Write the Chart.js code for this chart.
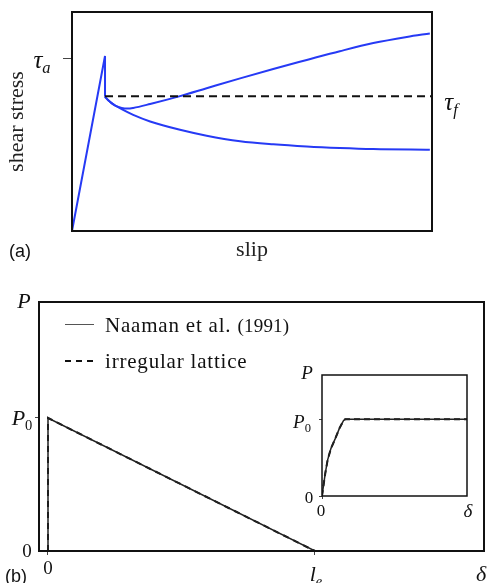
<!DOCTYPE html>
<html>
<head>
<meta charset="utf-8">
<script src="https://cdn.jsdelivr.net/npm/chart.js@4.4.0/dist/chart.umd.min.js"></script>
<style>
  body { margin: 0; background: #fff; }
  #fig { position: relative; width: 487px; height: 583px; overflow: hidden; font-family: "Liberation Serif", serif; color: #111; }
  #fig canvas { position: absolute; }
  .lbl { position: absolute; transform: translate(-50%, -50%); white-space: nowrap; line-height: 1; }
  .m { font-style: italic; }
  .m sub { font-size: 0.66em; vertical-align: -0.35em; line-height: 0; }
  .m sub.up { font-style: normal; }
  .sans { font-family: "Liberation Sans", Arial, sans-serif; }
  .leg { position: absolute; transform: translate(0, -50%); white-space: nowrap; line-height: 1; font-size: 21px; letter-spacing: 0.8px; }
  .leg small { font-size: 19px; letter-spacing: 0.2px; }
  .swatch { position: absolute; width: 29px; }
</style>
</head>
<body>
<div id="fig">
  <canvas id="chartA" width="487" height="270" style="left:0;top:0"></canvas>
  <canvas id="chartB" width="487" height="303" style="left:0;top:280px"></canvas>
  <canvas id="chartC" width="207" height="150" style="left:280px;top:360px"></canvas>

  <div class="lbl m" style="left:42px;top:59px;font-size:25px">τ<sub>a</sub></div>
  <div class="lbl m" style="left:451px;top:101px;font-size:25px">τ<sub>f</sub></div>
  <div class="lbl sans" style="left:20px;top:251px;font-size:18px">(a)</div>

  <div class="lbl m" style="left:24px;top:301px;font-size:22px">P</div>
  <div class="lbl m" style="left:22px;top:418px;font-size:22px">P<sub class="up">0</sub></div>
  <div class="lbl" style="left:27px;top:550px;font-size:19px">0</div>
  <div class="lbl" style="left:48px;top:567px;font-size:19px">0</div>
  <div class="lbl m" style="left:316px;top:574px;font-size:22px">l<sub>e</sub></div>
  <div class="lbl m" style="left:481px;top:574px;font-size:22px">δ</div>
  <div class="lbl sans" style="left:16px;top:576px;font-size:18px">(b)</div>

  <div class="swatch" style="left:65px;top:324px;height:1.3px;background:#555"></div>
  <div class="leg" style="left:105px;top:325px">Naaman et al. <small>(1991)</small></div>
  <div class="swatch" style="left:65px;top:360px;height:2px;background:repeating-linear-gradient(90deg,#111 0 6px,transparent 6px 11px)"></div>
  <div class="leg" style="left:105px;top:361px">irregular lattice</div>

  <div class="lbl m" style="left:307px;top:372px;font-size:19px">P</div>
  <div class="lbl m" style="left:302px;top:421px;font-size:19px">P<sub class="up">0</sub></div>
  <div class="lbl" style="left:309px;top:497px;font-size:17px">0</div>
  <div class="lbl" style="left:321px;top:510px;font-size:17px">0</div>
  <div class="lbl m" style="left:468px;top:510px;font-size:19px">δ</div>
</div>

<script>
// (a) bond stress vs slip, arbitrary units 0..10
const slipRise = [0, 0.917, 0.917];
const stressRise = [0, 7.99, 6.13];
const slipHard = [0.917, 1.0, 1.1, 1.2, 1.38, 1.55, 1.7, 2.17, 3.0, 3.74, 4.67, 5.59, 6.52, 7.44, 8.37, 9.3, 9.94];
const stressHard = [6.13, 5.98, 5.84, 5.73, 5.62, 5.59, 5.62, 5.8, 6.16, 6.52, 6.97, 7.4, 7.81, 8.21, 8.58, 8.86, 9.02];
const slipSoft = [0.917, 1.0, 1.1, 1.2, 1.38, 1.7, 2.17, 3.0, 3.74, 4.67, 5.59, 6.52, 7.44, 8.37, 9.94];
const stressSoft = [6.13, 5.98, 5.84, 5.73, 5.56, 5.3, 5.0, 4.62, 4.35, 4.1, 3.96, 3.86, 3.79, 3.74, 3.71];
const slipFriction = [0.917, 10];
const stressFriction = [6.15, 6.15];
const tauA = 7.89;

// (b) pull-out load vs embedment, P/P0 against x/le
const naamanX = [0, 0, 1];
const naamanY = [0, 1, 0];
const latticeX = [0, 0, 1];
const latticeY = [0, 1, 0];

// (b) inset: load vs end slip
const insetDelta = [0, 0.009, 0.023, 0.039, 0.062, 0.092, 0.12, 0.148, 0.16, 1.0];
const insetLoad = [0, 0.12, 0.30, 0.47, 0.62, 0.75, 0.88, 0.98, 1.0, 1.0];

const blue = 'rgb(38, 58, 245)';
const serif = 'Liberation Serif';

const pts = (xs, ys) => xs.map((x, i) => ({ x, y: ys[i] }));

// box around the plotting area
const frame = {
    id: 'frame',
    afterDatasetsDraw(chart, args, opts) {
        const { ctx, chartArea: a } = chart;
        ctx.save();
        ctx.strokeStyle = '#111';
        ctx.lineWidth = opts.width;
        ctx.strokeRect(a.left, a.top, a.right - a.left, a.bottom - a.top);
        ctx.restore();
    }
};

// fix the axis band so the chart area lands where the figure has it
function fixAxis(size) {
    return scale => {
        if (scale.isHorizontal()) scale.height = size;
        else scale.width = size;
        scale.paddingLeft = scale.paddingRight = scale.paddingTop = scale.paddingBottom = 0;
    };
}
function tickAt(values) {
    return scale => { scale.ticks = values.map(v => ({ value: v })); };
}

function axis(min, max, band, ticks, tickLength, extra) {
    return Object.assign({
        type: 'linear', min, max,
        afterBuildTicks: tickAt(ticks),
        afterFit: fixAxis(band),
        ticks: { display: false },
        border: { display: false },
        grid: { display: ticks.length > 0, drawOnChartArea: false, drawTicks: true, tickLength, color: '#444', lineWidth: 1 }
    }, extra || {});
}

function line(data, color, width, dash, smooth) {
    return {
        data, borderColor: color, borderWidth: width, borderDash: dash || [],
        showLine: true, pointRadius: 0, fill: false,
        tension: 0, cubicInterpolationMode: smooth ? 'monotone' : 'default'
    };
}

const common = {
    responsive: false,
    animation: false,
    events: [],
    plugins: { legend: { display: false }, tooltip: { enabled: false } }
};

function createSlipChart() {
    new Chart(document.getElementById('chartA'), {
        type: 'scatter',
        data: {
            datasets: [
                line(pts(slipFriction, stressFriction), '#111', 2, [8, 5]),
                line(pts(slipRise, stressRise), blue, 2),
                line(pts(slipHard, stressHard), blue, 2, [], true),
                line(pts(slipSoft, stressSoft), blue, 2, [], true)
            ]
        },
        options: Object.assign({}, common, {
            layout: { padding: { top: 12, right: 55, left: 0, bottom: 0 } },
            scales: {
                x: axis(0, 10, 39, [], 0, {
                    title: { display: true, text: 'slip', color: '#222', font: { family: serif, size: 22 }, padding: { top: 0, bottom: 7 } }
                }),
                y: axis(0, 10, 72, [tauA], 9, {
                    title: { display: true, text: 'shear stress', color: '#222', font: { family: serif, size: 22 }, padding: { top: 4, bottom: 0 } }
                })
            },
            plugins: Object.assign({}, common.plugins, { frame: { width: 2 } })
        }),
        plugins: [frame]
    });
}

function createPulloutChart() {
    new Chart(document.getElementById('chartB'), {
        type: 'scatter',
        data: {
            datasets: [
                line(pts(naamanX, naamanY), '#222', 1.5),
                line(pts(latticeX, latticeY), '#111', 2, [6, 5])
            ]
        },
        options: Object.assign({}, common, {
            layout: { padding: { top: 22, right: 3, left: 0, bottom: 0 } },
            scales: {
                x: axis(-0.0337, 1.633, 32, [0, 1], 4),
                y: axis(0, 1.872, 39, [1], 4)
            },
            plugins: Object.assign({}, common.plugins, { frame: { width: 2 } })
        }),
        plugins: [frame]
    });
}

function createInsetChart() {
    new Chart(document.getElementById('chartC'), {
        type: 'scatter',
        data: {
            datasets: [
                line(pts(insetDelta, insetLoad), '#222', 1.5),
                line(pts(insetDelta, insetLoad), '#111', 2, [6, 4])
            ]
        },
        options: Object.assign({}, common, {
            layout: { padding: { top: 15, right: 20, left: 0, bottom: 0 } },
            scales: {
                x: axis(0, 1, 14, [0], 3),
                y: axis(0, 1.575, 42, [0, 1], 3)
            },
            plugins: Object.assign({}, common.plugins, { frame: { width: 1.5 } })
        }),
        plugins: [frame]
    });
}

createSlipChart();
createPulloutChart();
createInsetChart();
</script>
</body>
</html>
